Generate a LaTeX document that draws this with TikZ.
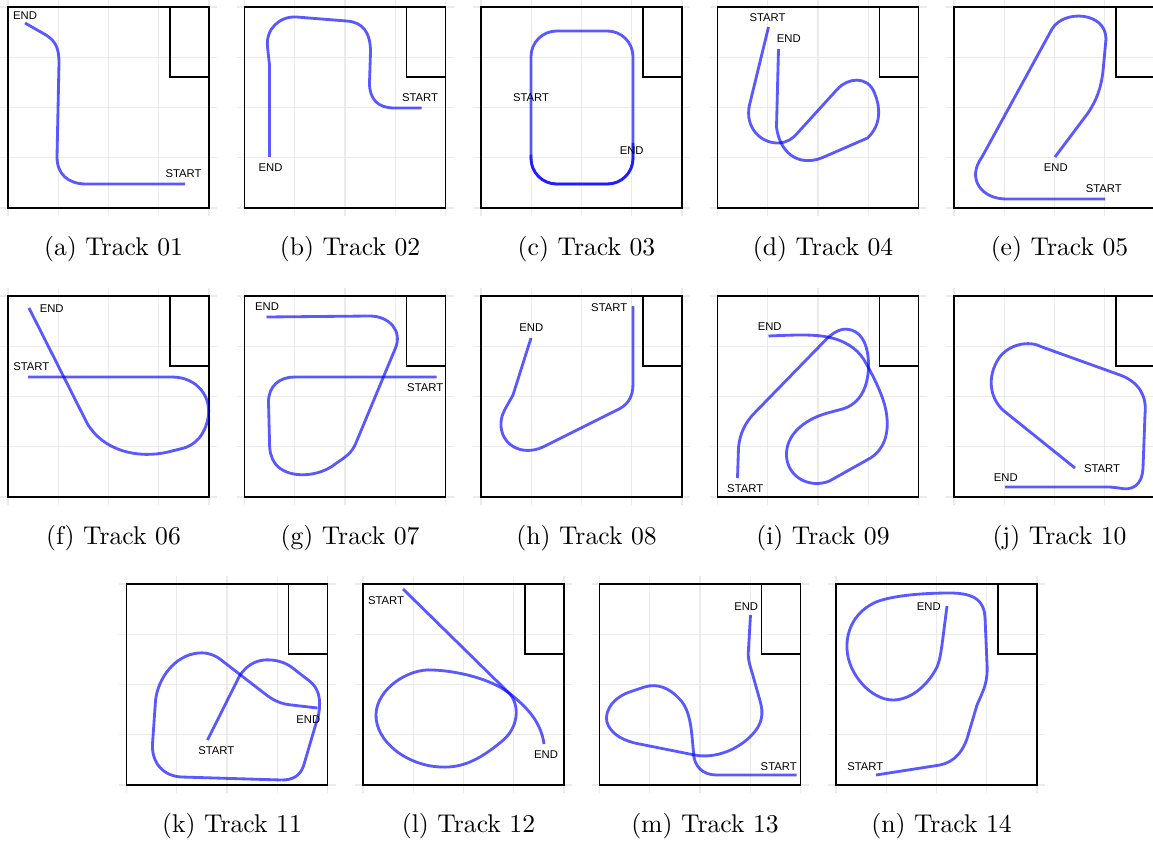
\documentclass[tikz,border=0pt]{standalone}
\usepackage{fontspec}
\newfontfamily\tagfont{Liberation Sans}
\usetikzlibrary{positioning}

\begin{document}
\begin{tikzpicture}[
    x=0.39pt, y=-0.39pt,
    gridline/.style={draw=black!8, line width=0.4pt},
    frame/.style={draw=black, line width=0.7pt},
    track/.style={draw=blue, draw opacity=0.65, line width=1.1pt,
        line join=round, line cap=butt},
    tag/.style={font=\tagfont\fontsize{4.4}{5}\selectfont, inner sep=0pt},
    caption/.style={inner sep=0pt}
]
\useasboundingbox (0,0) rectangle (1153,843);

% ------------------------
% Frames, grid and captions
% ------------------------
\foreach \bx/\by/\id/\num in {8/7/a/01, 244.5/7/b/02, 481/7/c/03,
    717.5/7/d/04, 954/7/e/05, 8/296/f/06, 244.5/296/g/07, 481/296/h/08,
    717.5/296/i/09, 954/296/j/10, 126.5/584/k/11, 363/584/l/12,
    599.5/584/m/13, 836/584/n/14}{
    \begin{scope}[shift={(\bx,\by)}]
        \foreach \g in {0,50.25,100.5,150.75,201}{
            \draw[gridline] (\g,-8) -- (\g,209);
            \draw[gridline] (-8,\g) -- (209,\g);
        }
        \draw[frame] (0,0) rectangle (201,201);
        \draw[frame] (162,0) -- (162,70) -- (201,70);
        \node[caption] (cap-\id) at (105.5,242) {(\id) Track \num};
    \end{scope}
}

% ------------------------
% Track 01
% ------------------------
\begin{scope}[shift={(8,7)}]
\draw[track] (177,177) -- (78,177) .. controls (60,177) and (49,167) .. (49,150)
    -- (51,56) .. controls (51,40) and (47,34) .. (38,28) -- (17,16);
\node[tag] (a-end) at (17,9) {END};
\node[tag] (a-start) at (175.5,167) {START};
\end{scope}

% ------------------------
% Track 02
% ------------------------
\begin{scope}[shift={(244.5,7)}]
\draw[track] (177,101) -- (150,101) .. controls (133,101) and (125,92) .. (125,76)
    -- (126,45) .. controls (126,25) and (118,15) .. (102,14) -- (52,10)
    .. controls (35,9) and (21,22) .. (23,40) -- (25,58) -- (25,150);
\node[tag] (b-start) at (175.5,91) {START};
\node[tag] (b-end) at (26,160.5) {END};
\end{scope}

% ------------------------
% Track 03
% ------------------------
\begin{scope}[shift={(481,7)}]
\draw[track, rounded corners=10pt] (50,24) rectangle (152,177);
\draw[track, rounded corners=10pt] (50,148) -- (50,177) -- (152,177) -- (152,136);
\node[tag] (c-start) at (50,91) {START};
\node[tag] (c-end) at (150.7,144) {END};
\end{scope}

% ------------------------
% Track 04
% ------------------------
\begin{scope}[shift={(717.5,7)}]
\draw[track] (51,20) -- (32,98) .. controls (27,120) and (43,137) .. (62,136)
    .. controls (70,135) and (75,132) .. (80,126) -- (120,82);
\draw[track] (120,82) .. controls (130,71) and (150,68) .. (157,86)
    .. controls (163,100) and (164,118) .. (150,131) -- (104,151)
    .. controls (80,160) and (62,145) .. (59,120) -- (61,42);
\node[tag] (d-start) at (50,10.5) {START};
\node[tag] (d-end) at (71.3,32) {END};
\end{scope}

% ------------------------
% Track 05
% ------------------------
\begin{scope}[shift={(954,7)}]
\draw[track] (151,192) -- (52,192) .. controls (28,192) and (12,172) .. (28,150)
    -- (98,22) .. controls (110,2) and (152,5) .. (152,32) -- (149,64)
    .. controls (147,82) and (142,94) .. (134,106) -- (101,150);
\node[tag] (e-end) at (101.8,161) {END};
\node[tag] (e-start) at (149.8,181.8) {START};
\end{scope}

% ------------------------
% Track 06
% ------------------------
\begin{scope}[shift={(8,296)}]
\draw[track] (20,81) -- (164,81) .. controls (190,81) and (204,102) .. (200,122)
    .. controls (197,138) and (188,150) .. (172,153);
\draw[track] (172,153) -- (160,156) .. controls (130,163) and (95,155) .. (79,127)
    -- (21,12);
\node[tag] (f-end) at (43.7,12.8) {END};
\node[tag] (f-start) at (23.3,70.7) {START};
\end{scope}

% ------------------------
% Track 07
% ------------------------
\begin{scope}[shift={(244.5,296)}]
\draw[track] (22,21) -- (125,20) .. controls (145,20) and (158,35) .. (151,52)
    -- (111,148) .. controls (107,157) and (101,161) .. (95,165) -- (88,170);
\draw[track] (88,170) .. controls (70,182) and (42,182) .. (31,168)
    .. controls (26,161) and (25,155) .. (25,145) -- (24,106)
    .. controls (24,90) and (35,81) .. (50,81) -- (192,81);
\node[tag] (g-end) at (22.5,10.7) {END};
\node[tag] (g-start) at (180.7,91.5) {START};
\end{scope}

% ------------------------
% Track 08
% ------------------------
\begin{scope}[shift={(481,296)}]
\draw[track] (152,10) -- (152,88) .. controls (152,102) and (146,110) .. (134,115)
    -- (62,151) .. controls (40,161) and (19,148) .. (20,127)
    .. controls (20,118) and (26,110) .. (32,99) -- (50,42);
\node[tag] (h-start) at (128.2,11.5) {START};
\node[tag] (h-end) at (50.3,31.8) {END};
\end{scope}

% ------------------------
% Track 09
% ------------------------
\begin{scope}[shift={(717.5,296)}]
\draw[track] (20,182) -- (21,152) .. controls (22,138) and (28,126) .. (37,117)
    -- (110,42) .. controls (120,33) and (127,32) .. (134,34)
    .. controls (146,38) and (151,52) .. (151,69)
    .. controls (151,92) and (142,108) .. (125,113) -- (110,117);
\draw[track] (110,117) .. controls (85,124) and (68,140) .. (69,160)
    .. controls (70,181) and (92,193) .. (112,185) -- (153,162)
    .. controls (166,154) and (172,138) .. (169,118)
    .. controls (167,102) and (156,80) .. (146,63)
    .. controls (139,52) and (126,44) .. (110,41)
    .. controls (95,38) and (75,39) .. (51,40);
\node[tag] (i-end) at (52.2,30.7) {END};
\node[tag] (i-start) at (27.7,192.3) {START};
\end{scope}

% ------------------------
% Track 10
% ------------------------
\begin{scope}[shift={(954,296)}]
\draw[track] (121,172) -- (50,115) .. controls (35,102) and (33,80) .. (45,62)
    .. controls (55,48) and (75,44) .. (88,51) -- (166,79)
    .. controls (185,86) and (193,100) .. (191,118) -- (189,172)
    .. controls (188,190) and (178,195) .. (165,192) -- (156,191) -- (51,191);
\node[tag] (j-start) at (148,172.3) {START};
\node[tag] (j-end) at (51.8,181.2) {END};
\end{scope}

% ------------------------
% Track 11
% ------------------------
\begin{scope}[shift={(126.5,584)}]
\draw[track] (81,156) -- (113,92) .. controls (122,78) and (134,75) .. (145,76)
    .. controls (156,77) and (163,81) .. (170,87) -- (183,97)
    .. controls (192,104) and (195,115) .. (192,131) -- (177,182)
    .. controls (173,193) and (165,196) .. (155,196);
\draw[track] (155,196) -- (55,193) .. controls (36,192) and (25,178) .. (26,160)
    -- (29,117) .. controls (31,95) and (48,71) .. (72,69)
    .. controls (82,68) and (90,72) .. (96,77) -- (140,111)
    .. controls (148,117) and (155,120) .. (165,121) -- (191,124);
\node[tag] (k-start) at (89.8,166.7) {START};
\node[tag] (k-end) at (181.8,135.2) {END};
\end{scope}

% ------------------------
% Track 12
% ------------------------
\begin{scope}[shift={(363,584)}]
\draw[track] (40,5) -- (146,109) .. controls (158,122) and (155,145) .. (138,158)
    .. controls (115,177) and (98,184) .. (78,183);
\draw[track] (78,183) .. controls (45,182) and (12,158) .. (13,130)
    .. controls (14,105) and (45,84) .. (70,86)
    .. controls (95,87) and (128,95) .. (146,109)
    .. controls (164,123) and (178,138) .. (181,160);
\node[tag] (l-start) at (23,16.3) {START};
\node[tag] (l-end) at (183,170.5) {END};
\end{scope}

% ------------------------
% Track 13
% ------------------------
\begin{scope}[shift={(599.5,584)}]
\draw[track] (197,191) -- (117,191) .. controls (103,191) and (94,182) .. (94,168)
    .. controls (92,150) and (92,127) .. (80,115)
    .. controls (70,104) and (58,99) .. (45,103) -- (30,108);
\draw[track] (30,108) .. controls (10,115) and (3,132) .. (9,142)
    .. controls (14,151) and (24,157) .. (40,160) -- (95,171)
    .. controls (115,175) and (140,166) .. (155,148)
    .. controls (165,136) and (163,125) .. (160,115) -- (153,90)
    .. controls (150,80) and (148,75) .. (149,65) -- (151,31);
\node[tag] (m-end) at (146.7,23) {END};
\node[tag] (m-start) at (179.2,182.3) {START};
\end{scope}

% ------------------------
% Track 14
% ------------------------
\begin{scope}[shift={(836,584)}]
\draw[track] (40,191) -- (104,181) .. controls (118,178) and (128,168) .. (133,148)
    -- (141,121) .. controls (148,105) and (152,98) .. (151,80) -- (149,33)
    .. controls (148,18) and (140,9) .. (114,9)
    .. controls (90,9) and (58,11) .. (40,18)
    .. controls (20,27) and (10,45) .. (11,65)
    .. controls (12,90) and (35,116) .. (57,116)
    .. controls (75,116) and (92,101) .. (101,83)
    .. controls (105,74) and (106,60) .. (111,22);
\node[tag] (n-start) at (29.3,182.3) {START};
\node[tag] (n-end) at (92.8,23) {END};
\end{scope}

\end{tikzpicture}
\end{document}
